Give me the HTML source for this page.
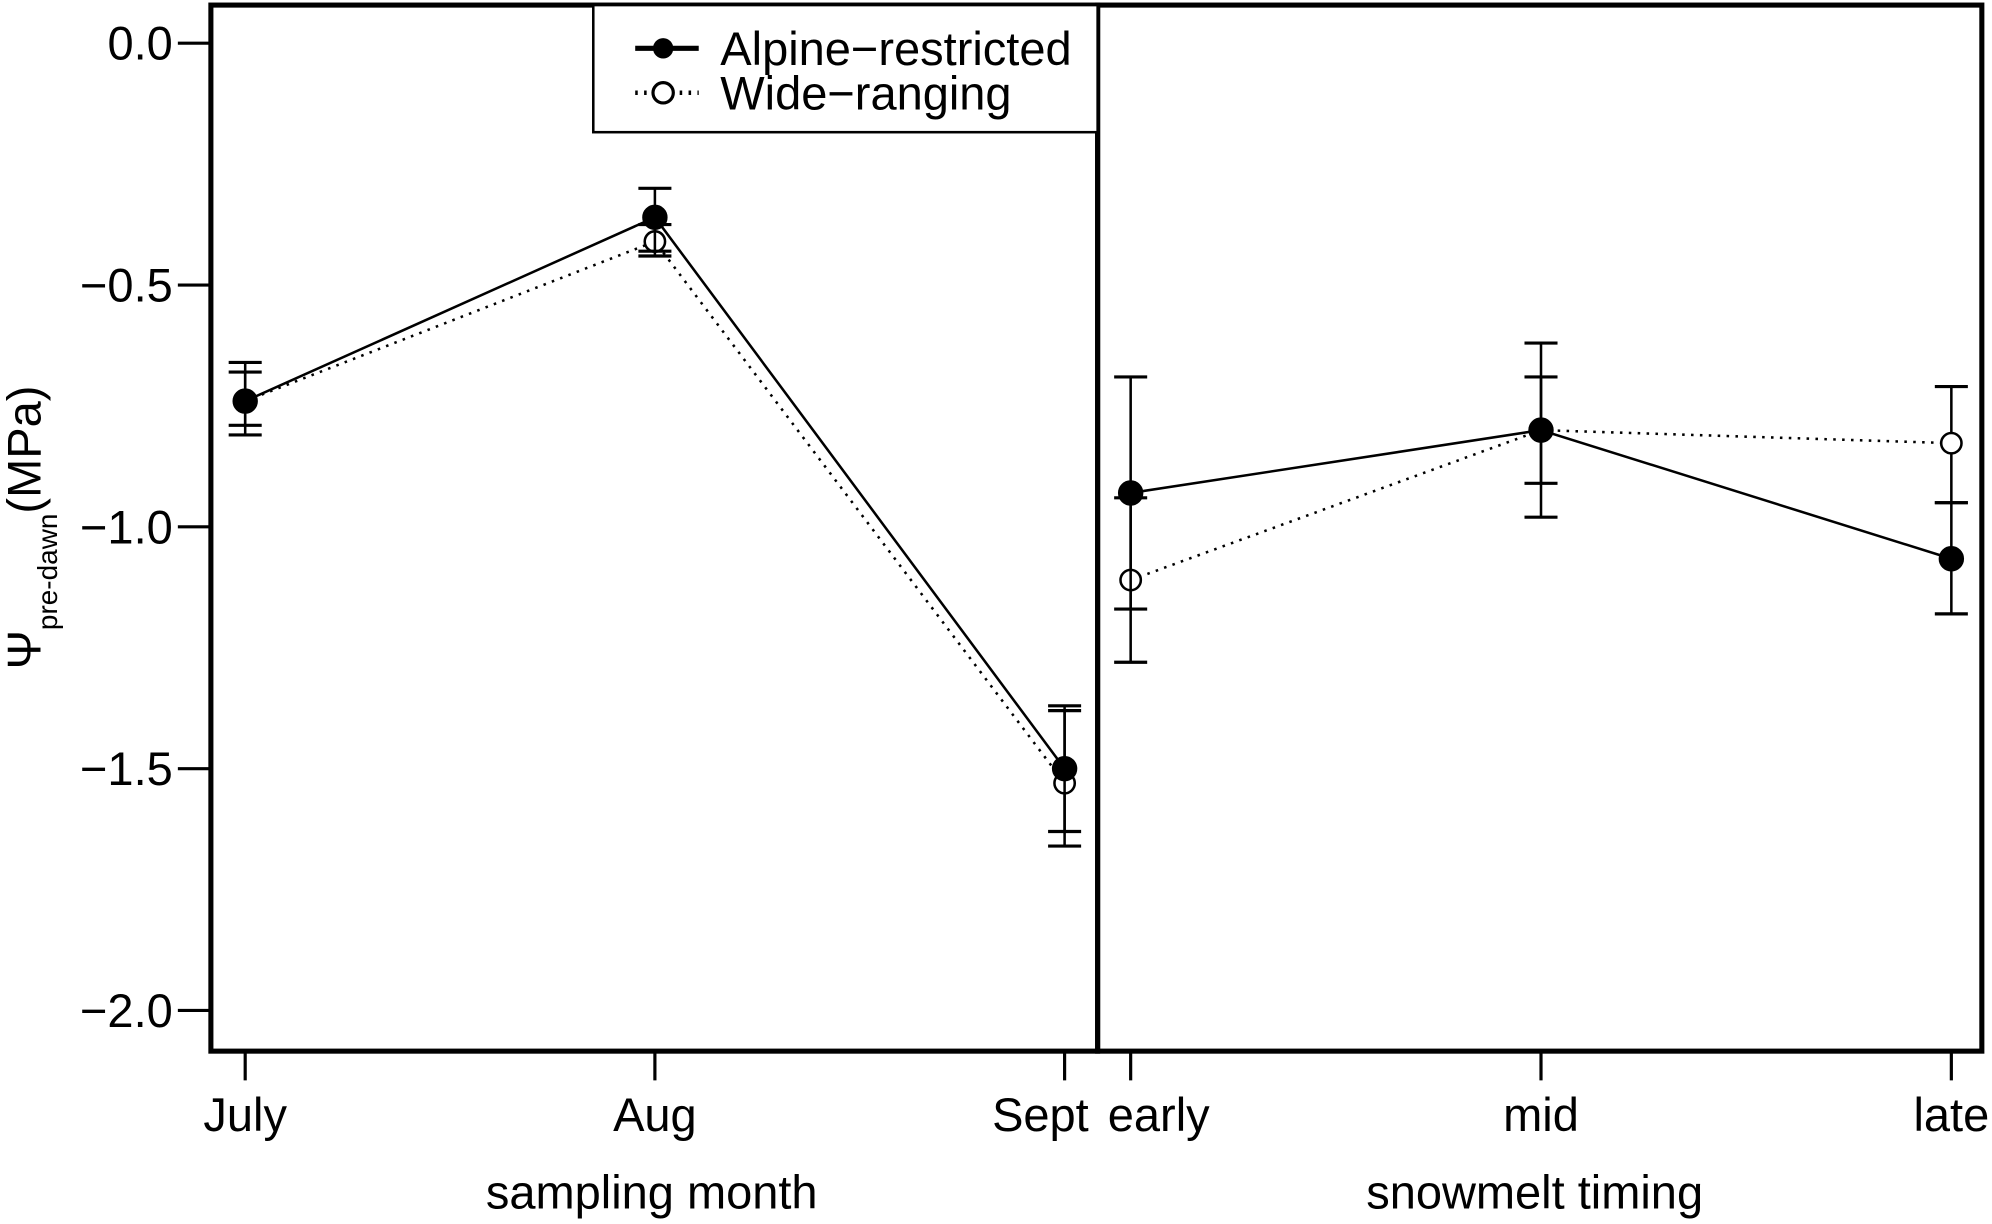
<!DOCTYPE html>
<html><head><meta charset="utf-8"><style>html,body{margin:0;padding:0;background:#fff}svg{display:block}</style></head>
<body>
<svg id="chart" width="1992" height="1224" viewBox="0 0 1568 963" preserveAspectRatio="none" xmlns="http://www.w3.org/2000/svg" font-family="Liberation Sans, sans-serif">
<g id="axes"></g>
<g id="marks"></g>
<g id="legend">
<rect x="467" y="4" width="397" height="100" fill="#fff" stroke="#000" stroke-width="2"/>
<line x1="500" y1="38" x2="550" y2="38" stroke="#000" stroke-width="4"/>
<circle cx="522" cy="38" r="8" fill="#000"/>
<text x="567" y="51" font-size="37">Alpine−restricted</text>
<line x1="500" y1="73" x2="550" y2="73" stroke="#000" stroke-width="3.5" stroke-dasharray="2,5"/>
<circle cx="522" cy="73" r="8" fill="#fff" stroke="#000" stroke-width="2.5"/>
<text x="567" y="86" font-size="37">Wide−ranging</text>
</g>
<script>
const yTicks = [0, -0.5, -1.0, -1.5, -2.0];
const yTickLabels = ["0.0", "−0.5", "−1.0", "−1.5", "−2.0"];
const leftCats = ["July", "Aug", "Sept"];
const rightCats = ["early", "mid", "late"];
const alpineLeft = [-0.74, -0.36, -1.50];
const alpineLeftLo = [-0.81, -0.43, -1.63];
const alpineLeftHi = [-0.66, -0.30, -1.38];
const wideLeft = [-0.74, -0.41, -1.53];
const wideLeftLo = [-0.79, -0.44, -1.66];
const wideLeftHi = [-0.68, -0.375, -1.37];
const alpineRight = [-0.93, -0.80, -1.066];
const alpineRightLo = [-1.17, -0.98, -1.18];
const alpineRightHi = [-0.69, -0.62, -0.95];
const wideRight = [-1.11, -0.80, -0.827];
const wideRightLo = [-1.28, -0.91, -0.95];
const wideRightHi = [-0.94, -0.69, -0.71];

const NS = "http://www.w3.org/2000/svg";
function y(v){ return 34 + (0 - v) * 380.5; }
function xL(i){ return 193 + i * 322.5; }
function xR(i){ return 890 + i * 323; }
function mk(tag, attrs, parent){ const e = document.createElementNS(NS, tag); for (const k in attrs) e.setAttribute(k, attrs[k]); parent.appendChild(e); return e; }
const axes = document.getElementById('axes');
const marks = document.getElementById('marks');

const pl = mk('rect', {x:166, y:4, width:698, height:823, fill:'none', stroke:'#000', 'stroke-width':4}, axes);


const pr = mk('rect', {x:864, y:4, width:696, height:823, fill:'none', stroke:'#000', 'stroke-width':4}, axes);



yTicks.forEach((v, i) => {
  mk('line', {x1:140, x2:166, y1:y(v), y2:y(v), stroke:'#000', 'stroke-width':2.5}, axes);
  const t = mk('text', {x:136, y:y(v)+13, 'font-size':37, 'text-anchor':'end'}, axes);
  t.textContent = yTickLabels[i];
  
  
});
function xAxis(cats, fx, anchors){
  cats.forEach((c, i) => {
    mk('line', {x1:fx(i), x2:fx(i), y1:827, y2:850, stroke:'#000', 'stroke-width':2.5}, axes);
    const a = anchors[i];
    const xx = a === 'end' ? 857 : (a === 'start' ? 872 : fx(i));
    const t = mk('text', {x:xx, y:890, 'font-size':37, 'text-anchor':a}, axes);
    t.textContent = c;
    
    
  });
}
xAxis(leftCats, xL, ['middle','middle','end']);
xAxis(rightCats, xR, ['start','middle','middle']);
let t = mk('text', {x:513, y:951, 'font-size':37, 'text-anchor':'middle'}, axes);
t.textContent = 'sampling month';


t = mk('text', {x:1208, y:951, 'font-size':37, 'text-anchor':'middle'}, axes);
t.textContent = 'snowmelt timing';


const yt = mk('text', {transform:'translate(32,415) rotate(-90)', 'font-size':37, 'text-anchor':'middle'}, axes);


const s1 = mk('tspan', {}, yt); s1.textContent = 'Ψ';
const s2 = mk('tspan', {'font-size':22, dy:13}, yt); s2.textContent = 'pre-dawn';
const s3 = mk('tspan', {dy:-13}, yt); s3.textContent = '(MPa)';

function series(vals, lo, hi, fx, filled, name){
  const g = mk('g', {}, marks);
  
  
  vals.forEach((v, i) => {
    const x = fx(i);
    mk('line', {x1:x, x2:x, y1:y(lo[i]), y2:y(hi[i]), stroke:'#000', 'stroke-width':2}, g);
    mk('line', {x1:x-13, x2:x+13, y1:y(lo[i]), y2:y(lo[i]), stroke:'#000', 'stroke-width':2.5}, g);
    mk('line', {x1:x-13, x2:x+13, y1:y(hi[i]), y2:y(hi[i]), stroke:'#000', 'stroke-width':2.5}, g);
  });
  const pts = vals.map((v, i) => fx(i) + ',' + y(v)).join(' ');
  const pa = {points:pts, fill:'none', stroke:'#000', 'stroke-width':2};
  if (!filled) pa['stroke-dasharray'] = '2,5';
  mk('polyline', pa, g);
  vals.forEach((v, i) => {
    const c = mk('circle', {cx:fx(i), cy:y(v), r: filled ? 9 : 8, fill: filled ? '#000' : '#fff', stroke:'#000', 'stroke-width':2}, g);
    
    
  });
}
series(wideLeft, wideLeftLo, wideLeftHi, xL, false, 'wide-ranging-month');
series(alpineLeft, alpineLeftLo, alpineLeftHi, xL, true, 'alpine-restricted-month');
series(wideRight, wideRightLo, wideRightHi, xR, false, 'wide-ranging-snowmelt');
series(alpineRight, alpineRightLo, alpineRightHi, xR, true, 'alpine-restricted-snowmelt');
</script>
</svg>
</body></html>
